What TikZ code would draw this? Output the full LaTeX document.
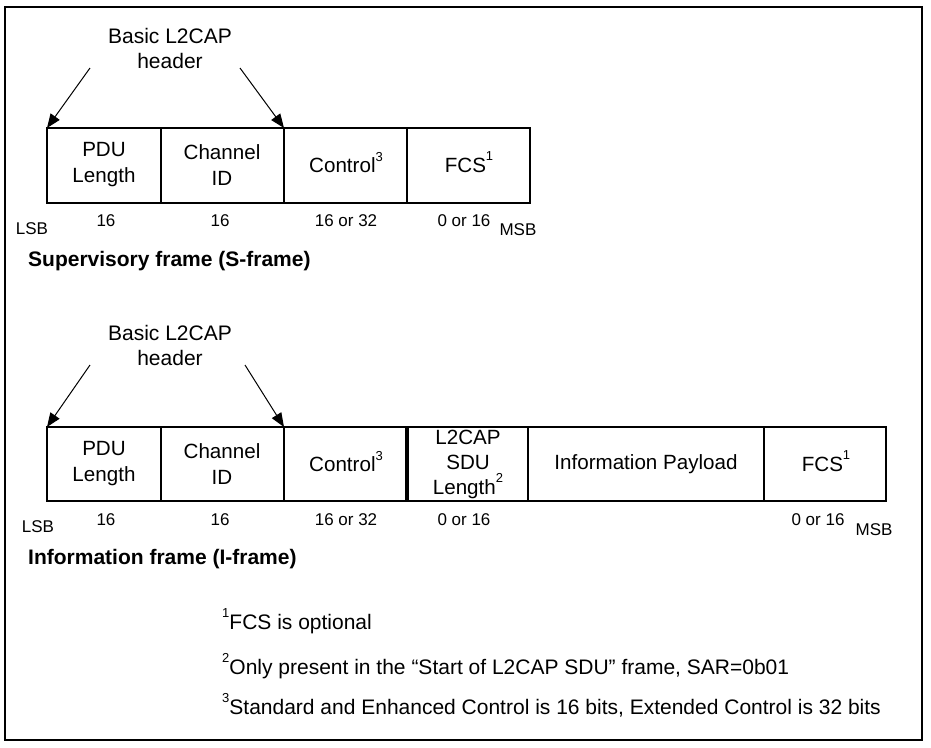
\documentclass[tikz,border=0pt]{standalone}
\usepackage{fontspec}
\setmainfont{Liberation Sans}
\usetikzlibrary{arrows.meta}
\newcommand{\supnum}[1]{\raisebox{0.55em}[0pt][0pt]{\fontsize{13}{13}\selectfont #1}}
\begin{document}
\begin{tikzpicture}[x=1pt,y=-1pt,
  box/.style={draw,line width=1.2pt},
  lbl/.style={font=\fontsize{20.6}{26}\selectfont,align=center,inner sep=0pt},
  bits/.style={font=\fontsize{17}{18}\selectfont,inner sep=0pt},
  hdr/.style={font=\fontsize{21}{25}\selectfont,align=center,inner sep=0pt},
  ttl/.style={font=\bfseries\fontsize{21}{25}\selectfont,anchor=west,inner sep=0pt},
  note/.style={font=\fontsize{21}{24}\selectfont,anchor=west,inner sep=0pt},
  arr/.style={line width=1pt,-{Triangle[length=14pt,width=11pt]}}]
\useasboundingbox (0,0) rectangle (931,747);
\draw[line width=1.3pt] (5,7) rectangle (922,740);
% ---------- S-frame ----------
\node[hdr] (h1) at (170,48) {Basic L2CAP\\header};
\coordinate (s0) at (47,128);
\draw[box] (47,128) rectangle (161,203);
\draw[box] (161,128) rectangle (284,203);
\draw[box] (284,128) rectangle (407,203);
\draw[box] (407,128) rectangle (530,203);
\draw[line width=2pt] (284,128) -- (284,203);
\coordinate (s1) at (284,128);
\node[lbl] (sa) at (104,165) {PDU\\Length};
\node[lbl] (sb) at (222,165) {Channel\\ID};
\node[lbl] (sc) at (346,165) {Control\supnum{3}};
\node[lbl] (sd) at (469,165) {FCS\supnum{1}};
\coordinate (a1s) at (90,68);
\coordinate (a2s) at (240,68);
\draw[arr] (a1s) -- (s0);
\draw[arr] (a2s) -- (s1);
\node[bits] (sl) at (32,229) {LSB};
\node[bits] (s16a) at (106,221) {16};
\node[bits] (s16b) at (220,221) {16};
\node[bits] (s1632) at (346,221) {16 or 32};
\node[bits] (s016) at (464,221) {0 or 16};
\node[bits] (sm) at (518,230) {MSB};
\node[ttl] (st) at (28,261) {Supervisory frame (S-frame)};
% ---------- I-frame ----------
\node[hdr] (h2) at (170,345) {Basic L2CAP\\header};
\coordinate (i0) at (47,427);
\draw[box] (47,427) rectangle (161,501);
\draw[box] (161,427) rectangle (284,501);
\draw[box] (284,427) rectangle (406,501);
\draw[box] (408,427) rectangle (528,501);
\draw[box] (528,427) rectangle (764,501);
\draw[box] (764,427) rectangle (886,501);
\draw[line width=2pt] (284,427) -- (284,501);
\coordinate (i1) at (284,427);
\node[lbl] (ia) at (104,464) {PDU\\Length};
\node[lbl] (ib) at (222,464) {Channel\\ID};
\node[lbl] (ic) at (346,464) {Control\supnum{3}};
\node[lbl, font=\fontsize{20.6}{25}\selectfont] (id) at (468,464) {L2CAP\\SDU\\Length\supnum{2}};
\node[lbl] (ie) at (646,464) {Information Payload};
\node[lbl] (if) at (826,464) {FCS\supnum{1}};
\coordinate (a1i) at (90,365);
\coordinate (a2i) at (245,365);
\draw[arr] (a1i) -- (i0);
\draw[arr] (a2i) -- (i1);
\node[bits] (il) at (38,527) {LSB};
\node[bits] (i16a) at (106,520) {16};
\node[bits] (i16b) at (220,520) {16};
\node[bits] (i1632) at (346,520) {16 or 32};
\node[bits] (i016) at (464,520) {0 or 16};
\node[bits] (i016b) at (818,520) {0 or 16};
\node[bits] (im) at (874,530) {MSB};
\node[ttl] (it) at (28,559) {Information frame (I-frame)};
% ---------- notes ----------
\node[note] (n1) at (222,624) {\supnum{1}FCS is optional};
\node[note] (n2) at (222,669) {\supnum{2}Only present in the “Start of L2CAP SDU” frame, SAR=0b01};
\node[note] (n3) at (222,708) {\supnum{3}Standard and Enhanced Control is 16 bits, Extended Control is 32 bits};
\end{tikzpicture}
\end{document}
